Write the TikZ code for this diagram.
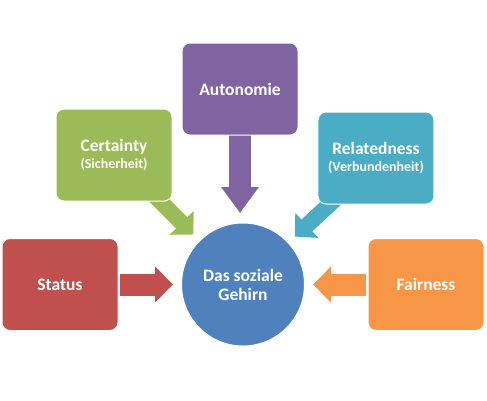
\documentclass[tikz,border=0pt]{standalone}
\usepackage{fontspec}
\setmainfont{Carlito}
\usetikzlibrary{arrows.meta,positioning}
\definecolor{Brain}{HTML}{4F81BD}
\definecolor{Red}{HTML}{C0504D}
\definecolor{Green}{HTML}{9BBB59}
\definecolor{Purple}{HTML}{8064A2}
\definecolor{Teal}{HTML}{4BACC6}
\definecolor{Orange}{HTML}{F79646}
\newcommand{\subtxt}[1]{{\fontsize{14}{16}\selectfont #1}}
\pgfdeclarelayer{back}
\pgfsetlayers{back,main}

\begin{document}
\begin{tikzpicture}[
      box/.style={draw=white,line width=1pt,rounded corners=8pt,align=center,
        minimum width=116pt,minimum height=92pt,inner sep=0pt,outer sep=0pt,
        text=white,font=\bfseries\fontsize{17.5}{18}\selectfont},
      brainnode/.style={circle,draw=white,line width=1pt,fill=Brain,align=center,
        minimum size=123pt,inner sep=0pt,outer sep=0pt,
        text=white,font=\bfseries\fontsize{17.5}{19}\selectfont},
      harrow/.style={line width=22pt,-{Triangle[length=18pt,width=35pt]},
        draw=#1,shorten <=2pt,shorten >=8.5pt},
      varrow/.style={line width=22pt,-{Triangle[length=26pt,width=36pt]},
        draw=#1,shorten <=-1pt,shorten >=10pt},
      darrow/.style={line width=16pt,-{Triangle[length=16.5pt,width=33pt]},
        draw=#1,shorten <=-8pt,shorten >=9pt}
    ]
      \useasboundingbox (0,0) rectangle (487pt,-400pt);
      \node[brainnode] (brain) at (243pt,-284.5pt) {Das soziale\\Gehirn};
      \node[box,fill=Red,left=63.5pt of brain] (status) {Status};
      \node[box,fill=Orange,right=63.5pt of brain] (fairness) {Fairness};
      \node[box,fill=Purple,above=88pt of brain,xshift=-3pt] (autonomie) {Autonomie};
      \node[box,fill=Green,above left=40pt and 27.5pt of brain] (certainty)
        {Certainty\\[-1pt]\subtxt{(Sicherheit)}};
      \node[box,fill=Teal,above right=37pt and 31.5pt of brain] (relatedness)
        {Relatedness\\[-1pt]\subtxt{(Verbundenheit)}};
      % block arrows behind the boxes
      \begin{pgfonlayer}{back}
        \draw[harrow=Red] (status) -- (brain);
        \draw[harrow=Orange] (fairness) -- (brain);
        \draw[varrow=Purple] (autonomie.south) -- (autonomie.south |- brain.north);
        \draw[darrow=Green] (certainty.-45) -- (brain);
        \draw[darrow=Teal] (relatedness.-135) -- (brain);
      \end{pgfonlayer}
    \end{tikzpicture}
\end{document}
